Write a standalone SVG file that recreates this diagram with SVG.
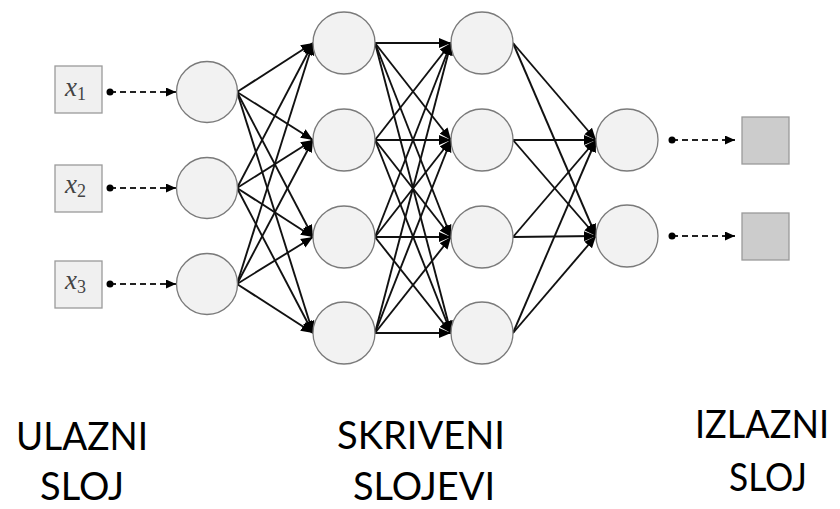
<svg xmlns="http://www.w3.org/2000/svg" width="840" height="509" viewBox="0 0 840 509">
<style>
.neuron{fill:#f2f2f2;stroke:#7a7a7a;stroke-width:1.3}
.inbox{fill:#f0f0f0;stroke:#9a9a9a;stroke-width:1.3}
.outbox{fill:#cccccc;stroke:#9a9a9a;stroke-width:1.3}
.edge{stroke:#111;stroke-width:1.9;fill:none;marker-end:url(#arr)}
.dash{stroke:#222;stroke-width:1.8;fill:none;stroke-dasharray:6 4;marker-start:url(#dot);marker-end:url(#arrs)}
.math{font-family:"Liberation Serif","DejaVu Serif",serif;font-style:italic;font-size:27px;fill:#444}
.sub{font-style:normal;font-size:18px}
.lbl{font-family:Lato,"Open Sans","Liberation Sans",sans-serif;font-size:39px;fill:#000;text-anchor:middle}
</style>
<defs>
<marker id="arr" markerUnits="userSpaceOnUse" markerWidth="13" markerHeight="11" refX="12" refY="5.5" orient="auto">
<path d="M0,0.5 L12,5.5 L0,10.5 z" fill="#000"/>
</marker>
<marker id="arrs" markerUnits="userSpaceOnUse" markerWidth="11" markerHeight="9" refX="10" refY="4.5" orient="auto">
<path d="M0,0 L10,4.5 L0,9 z" fill="#000"/>
</marker>
<marker id="dot" markerUnits="userSpaceOnUse" markerWidth="8" markerHeight="8" refX="4" refY="4">
<circle cx="4" cy="4" r="3.5" fill="#000"/>
</marker>
</defs>

<g id="connectors">
<line class="edge" x1="237" y1="92" x2="313" y2="43"/>
<line class="edge" x1="237" y1="92" x2="313" y2="140"/>
<line class="edge" x1="237" y1="92" x2="313" y2="237"/>
<line class="edge" x1="237" y1="92" x2="313" y2="333"/>
<line class="edge" x1="237" y1="188" x2="313" y2="43"/>
<line class="edge" x1="237" y1="188" x2="313" y2="140"/>
<line class="edge" x1="237" y1="188" x2="313" y2="237"/>
<line class="edge" x1="237" y1="188" x2="313" y2="333"/>
<line class="edge" x1="237" y1="284" x2="313" y2="43"/>
<line class="edge" x1="237" y1="284" x2="313" y2="140"/>
<line class="edge" x1="237" y1="284" x2="313" y2="237"/>
<line class="edge" x1="237" y1="284" x2="313" y2="333"/>

<line class="edge" x1="375" y1="43" x2="451" y2="43"/>
<line class="edge" x1="375" y1="43" x2="451" y2="140"/>
<line class="edge" x1="375" y1="43" x2="451" y2="237"/>
<line class="edge" x1="375" y1="43" x2="451" y2="333"/>
<line class="edge" x1="375" y1="140" x2="451" y2="43"/>
<line class="edge" x1="375" y1="140" x2="451" y2="140"/>
<line class="edge" x1="375" y1="140" x2="451" y2="237"/>
<line class="edge" x1="375" y1="140" x2="451" y2="333"/>
<line class="edge" x1="375" y1="237" x2="451" y2="43"/>
<line class="edge" x1="375" y1="237" x2="451" y2="140"/>
<line class="edge" x1="375" y1="237" x2="451" y2="237"/>
<line class="edge" x1="375" y1="237" x2="451" y2="333"/>
<line class="edge" x1="375" y1="333" x2="451" y2="43"/>
<line class="edge" x1="375" y1="333" x2="451" y2="140"/>
<line class="edge" x1="375" y1="333" x2="451" y2="237"/>
<line class="edge" x1="375" y1="333" x2="451" y2="333"/>

<line class="edge" x1="513" y1="43" x2="596" y2="140"/>
<line class="edge" x1="513" y1="43" x2="596" y2="236"/>
<line class="edge" x1="513" y1="140" x2="596" y2="140"/>
<line class="edge" x1="513" y1="140" x2="596" y2="236"/>
<line class="edge" x1="513" y1="237" x2="596" y2="140"/>
<line class="edge" x1="513" y1="237" x2="596" y2="236"/>
<line class="edge" x1="513" y1="333" x2="596" y2="140"/>
<line class="edge" x1="513" y1="333" x2="596" y2="236"/>

<line class="dash" x1="110" y1="92" x2="176" y2="92"/>
<line class="dash" x1="110" y1="188" x2="176" y2="188"/>
<line class="dash" x1="110" y1="284" x2="176" y2="284"/>
<line class="dash" x1="672" y1="140" x2="735" y2="140"/>
<line class="dash" x1="672" y1="236" x2="735" y2="236"/>
</g>

<g id="x1"><rect class="inbox" x="55" y="66" width="47" height="47"/><text class="math" x="65" y="96">x<tspan class="sub" dy="4">1</tspan></text></g>
<g id="x2"><rect class="inbox" x="55" y="165" width="47" height="47"/><text class="math" x="65" y="193">x<tspan class="sub" dy="4">2</tspan></text></g>
<g id="x3"><rect class="inbox" x="55" y="261" width="47" height="47"/><text class="math" x="65" y="289">x<tspan class="sub" dy="4">3</tspan></text></g>

<g id="in1"><circle class="neuron" cx="207" cy="92" r="30.5"/></g>
<g id="in2"><circle class="neuron" cx="207" cy="188" r="30.5"/></g>
<g id="in3"><circle class="neuron" cx="207" cy="284" r="30.5"/></g>

<g id="h1a"><circle class="neuron" cx="344" cy="43" r="31"/></g>
<g id="h1b"><circle class="neuron" cx="344" cy="140" r="31"/></g>
<g id="h1c"><circle class="neuron" cx="344" cy="237" r="31"/></g>
<g id="h1d"><circle class="neuron" cx="344" cy="333" r="31"/></g>

<g id="h2a"><circle class="neuron" cx="482" cy="43" r="31"/></g>
<g id="h2b"><circle class="neuron" cx="482" cy="140" r="31"/></g>
<g id="h2c"><circle class="neuron" cx="482" cy="237" r="31"/></g>
<g id="h2d"><circle class="neuron" cx="482" cy="333" r="31"/></g>

<g id="o1"><circle class="neuron" cx="627" cy="140" r="31"/></g>
<g id="o2"><circle class="neuron" cx="627" cy="236" r="31"/></g>

<g id="y1"><rect class="outbox" x="742" y="117" width="47" height="47"/></g>
<g id="y2"><rect class="outbox" x="742" y="213" width="47" height="47"/></g>

<g id="labels">
<text class="lbl" x="82" y="450" textLength="132" lengthAdjust="spacingAndGlyphs">ULAZNI</text>
<text class="lbl" x="82" y="500" textLength="84" lengthAdjust="spacingAndGlyphs">SLOJ</text>
<text class="lbl" x="421" y="449" textLength="168" lengthAdjust="spacingAndGlyphs">SKRIVENI</text>
<text class="lbl" x="424" y="500" textLength="142" lengthAdjust="spacingAndGlyphs">SLOJEVI</text>
<text class="lbl" x="762" y="438" textLength="134" lengthAdjust="spacingAndGlyphs">IZLAZNI</text>
<text class="lbl" x="768" y="491" textLength="78" lengthAdjust="spacingAndGlyphs">SLOJ</text>
</g>
</svg>
